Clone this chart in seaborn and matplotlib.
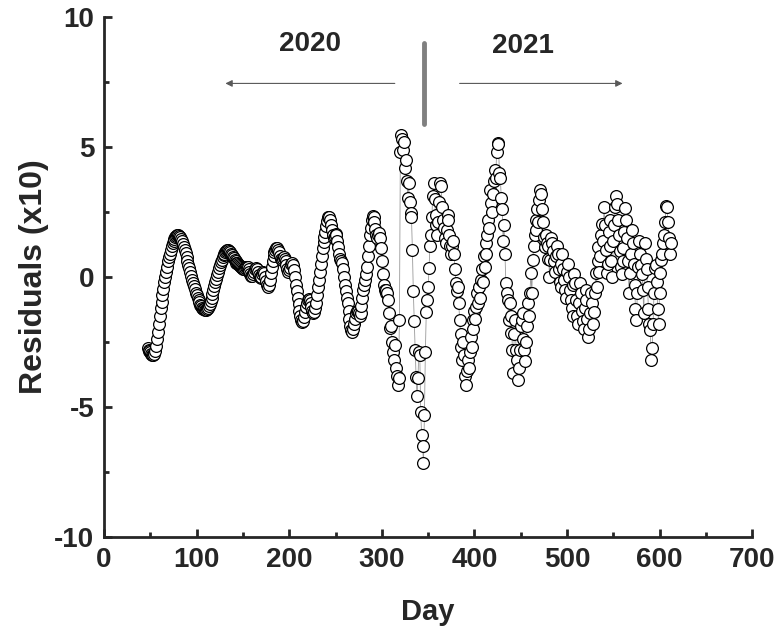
import numpy as np
import pandas as pd
import matplotlib
matplotlib.use("Agg")
import matplotlib.pyplot as plt
from matplotlib.ticker import MultipleLocator
import seaborn as sns

# residuals (x10), one value per day, starting at first_day
first_day = 47
residuals = [
    # 47-136 smooth start
    -2.75, -2.8, -2.85, -2.9, -2.95, -3.0, -3.0, -2.95, -2.85, -2.65,
    -2.4, -2.1, -1.8, -1.5, -1.2, -0.95, -0.7, -0.45, -0.2, 0.0,
    0.2, 0.4, 0.6, 0.75, 0.9, 1.05, 1.2, 1.3, 1.4, 1.48,
    1.54, 1.58, 1.6, 1.6, 1.58, 1.53, 1.46, 1.38, 1.28, 1.17,
    1.05, 0.92, 0.78, 0.63, 0.48, 0.33, 0.18, 0.04, -0.1, -0.23,
    -0.36, -0.48, -0.6, -0.7, -0.8, -0.9, -0.98, -1.06, -1.12, -1.18,
    -1.22, -1.25, -1.27, -1.27, -1.25, -1.2, -1.13, -1.04, -0.93, -0.8,
    -0.66, -0.51, -0.36, -0.21, -0.07, 0.07, 0.2, 0.33, 0.45, 0.56,
    0.66, 0.75, 0.83, 0.9, 0.96, 1.0, 1.02, 1.02, 1.0, 0.96,
    # 137-236
    0.9, 0.84, 0.78, 0.72, 0.66, 0.6, 0.55, 0.52, 0.5, 0.47,
    0.43, 0.38, 0.33, 0.3, 0.3, 0.33, 0.38, 0.4, 0.38, 0.3,
    0.2, 0.1, 0.05, 0.05, 0.1, 0.2, 0.3, 0.35, 0.3, 0.2,
    0.08, 0.0, -0.05, 0.0, 0.1, 0.2, 0.15, 0.0, -0.15, -0.3,
    -0.4, -0.3, -0.1, 0.15, 0.4, 0.6, 0.8, 0.95, 1.05, 1.1,
    1.1, 1.05, 0.95, 0.8, 0.7, 0.65, 0.7, 0.75, 0.7, 0.6,
    0.45, 0.3, 0.2, 0.25, 0.35, 0.5, 0.55, 0.45, 0.25, 0.0,
    -0.3, -0.55, -0.8, -1.05, -1.3, -1.5, -1.65, -1.75, -1.7, -1.55,
    -1.35, -1.15, -1.0, -0.9, -0.85, -0.9, -1.0, -1.15, -1.3, -1.4,
    -1.35, -1.2, -1.0, -0.7, -0.4, -0.1, 0.2, 0.5, 0.8, 1.1,
    # 237-336
    1.35, 1.55, 1.75, 1.95, 2.15, 2.3, 2.3, 2.2, 2.0, 1.8,
    1.6, 1.5, 1.55, 1.65, 1.6, 1.4, 1.15, 0.9, 0.7, 0.6,
    0.55, 0.3, 0.0, -0.3, -0.55, -0.8, -1.0, -1.3, -1.6, -1.9,
    -2.05, -2.1, -2.0, -1.8, -1.6, -1.4, -1.3, -1.3, -1.4, -1.5,
    -1.4, -1.1, -0.8, -0.5, -0.3, -0.1, 0.1, 0.4, 0.8, 1.2,
    1.6, 1.9, 2.2, 2.35, 2.3, 2.1, 1.85, 1.6, 1.5, 1.6,
    1.7, 1.5, 1.1, 0.6, 0.1, -0.3, -0.5, -0.6, -0.5, -0.6,
    -0.9, -1.4, -1.95, -1.9, -2.5, -2.9, -3.2, -2.6, -3.5, -3.8,
    -4.15, -3.9, -1.65, 4.8, 5.45, 5.3, 4.9, 5.2, 4.2, 4.5,
    3.7, 3.05, 3.6, 2.9, 2.45, 2.3, 1.05, -0.55, -1.7, -2.8,
    # 337-436
    -3.85, -4.6, -3.9, -2.9, -3.0, -5.2, -6.1, -6.5, -7.15, -5.3,
    -2.9, -1.35, -0.9, -0.4, 0.35, 1.2, 1.6, 2.3, 3.1, 3.6,
    3.0, 2.4, 2.0, 1.6, 2.1, 2.9, 3.6, 3.5, 2.7, 2.2,
    1.9, 1.5, 1.3, 1.8, 2.4, 2.2, 1.6, 1.2, 0.9, 1.2,
    1.4, 0.9, 0.3, -0.25, -0.55, -0.4, -1.0, -1.65, -2.2, -2.7,
    -3.2, -2.5, -3.0, -3.8, -4.15, -3.6, -3.2, -3.5, -2.9, -2.3,
    -2.7, -1.65, -2.0, -1.3, -1.6, -1.15, -0.6, -1.0, -0.4, -0.8,
    -0.1, 0.3, -0.2, 0.8, 0.4, 1.3, 0.9, 1.6, 2.2, 1.9,
    3.35, 2.85, 2.5, 3.2, 3.7, 4.1, 3.8, 4.8, 5.15, 5.1,
    4.0, 3.8, 3.05, 2.6, 1.4, 2.0, 0.9, -0.25, -0.6, -0.9,
    # 437-536
    -1.65, -1.0, -2.15, -1.5, -2.8, -3.7, -2.2, -1.65, -2.8, -3.2,
    -3.95, -3.5, -2.8, -1.9, -1.65, -1.4, -2.4, -2.8, -3.25, -2.5,
    -1.9, -1.0, -1.5, -0.6, 0.15, -0.6, 0.65, 1.2, 1.6, 2.2,
    1.8, 2.6, 2.1, 2.95, 3.35, 3.2, 2.6, 2.1, 1.55, 1.15,
    1.6, 1.3, 0.7, 1.2, 0.0, 0.65, 1.5, 1.3, 1.0, 0.6,
    0.2, 0.8, 1.2, 0.9, 0.3, -0.2, -0.4, 0.5, 0.9, 0.3,
    -0.1, -0.5, -0.8, 0.2, 0.5, 0.0, -0.5, -0.9, -1.2, -1.5,
    -0.3, 0.1, -0.25, -0.9, -1.5, -1.8, -1.0, -0.25, -0.6, -1.3,
    -1.7, -2.0, -1.2, -0.5, -0.9, -1.6, -2.3, -2.0, -1.4, -0.6,
    -1.0, -1.8, -1.35, -0.6, 0.15, -0.4, 0.6, 1.15, 0.2, 0.8,
    # 537-612
    1.6, 2.05, 1.4, 2.7, 2.0, 1.05, 0.15, 0.5, 1.75, 2.2,
    1.2, 0.6, 0.0, 1.4, 2.0, 2.7, 3.1, 2.8, 2.2, 1.6,
    1.0, 0.4, 0.1, 0.6, 1.1, 1.75, 2.65, 2.2, 1.5, 0.6,
    -0.6, 0.15, 0.9, 1.8, 1.3, 0.5, -0.3, -1.25, -1.65, -0.6,
    0.4, 1.4, 0.9, 0.45, 0.1, -0.5, -1.4, 1.3, 0.7, 0.3,
    -0.4, -1.25, -1.8, -2.05, -3.2, -2.75, -1.8, -0.6, 0.35, 0.45,
    -0.2, -1.25, -1.8, -0.6, 0.15, 0.65, 0.9, 1.3, 1.6, 2.1,
    2.75, 2.7, 2.1, 1.5, 0.9, 1.3,
]
days = list(range(first_day, first_day + len(residuals)))
df = pd.DataFrame({"Day": days, "Residuals": residuals})

year_labels = ["2020", "2021"]
split_day = 346

sns.set_style("ticks")
plt.rcParams["font.family"] = ["Liberation Sans", "DejaVu Sans"]
plt.rcParams["font.weight"] = "bold"
plt.rcParams["axes.unicode_minus"] = False

fig = plt.figure(figsize=(7.77, 6.36), dpi=100)
ax = fig.add_axes([0.134, 0.156, 0.834, 0.817])

# thin grey line joining the days, open circles on top
sns.lineplot(data=df, x="Day", y="Residuals", color="0.6", linewidth=0.6,
             sort=False, ax=ax, zorder=2)
sns.scatterplot(data=df, x="Day", y="Residuals", s=72, facecolor="white",
                edgecolor="black", linewidth=0.9, ax=ax, zorder=3)

ax.set_xlim(0, 700)
ax.set_ylim(-10, 10)
ax.xaxis.set_major_locator(MultipleLocator(100))
ax.xaxis.set_minor_locator(MultipleLocator(50))
ax.yaxis.set_major_locator(MultipleLocator(5))
ax.yaxis.set_minor_locator(MultipleLocator(2.5))
ax.tick_params(which="major", direction="in", length=6, width=2, pad=7)
ax.tick_params(which="minor", direction="in", length=3.5, width=2)
for lab in ax.get_xticklabels() + ax.get_yticklabels():
    lab.set_fontweight("bold")
    lab.set_fontsize(20)

sns.despine(ax=ax)
for s in ["left", "bottom"]:
    ax.spines[s].set_linewidth(2)

ax.set_xlabel("Day", fontsize=21, fontweight="bold", labelpad=18)
ax.set_ylabel("Residuals (x10)", fontsize=23, fontweight="bold", labelpad=4)

# year separator and arrows
ax.plot([split_day, split_day], [5.9, 9.0], color="0.5", lw=3.5,
        solid_capstyle="round")
ax.annotate("", xy=(128, 7.45), xytext=(317, 7.45),
            arrowprops=dict(arrowstyle="-|>", color="0.35", lw=0.8,
                            mutation_scale=10))
ax.annotate("", xy=(563, 7.45), xytext=(381, 7.45),
            arrowprops=dict(arrowstyle="-|>", color="0.35", lw=0.8,
                            mutation_scale=10))
ax.text(222, 8.95, year_labels[0], ha="center", va="center",
        fontsize=20, fontweight="bold")
ax.text(452, 8.9, year_labels[1], ha="center", va="center",
        fontsize=20, fontweight="bold")

fig.savefig("out.png", dpi=100)
